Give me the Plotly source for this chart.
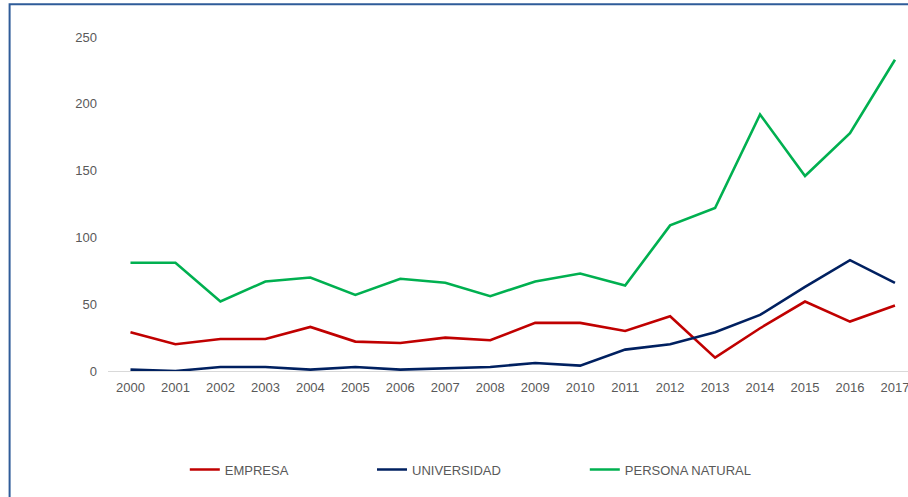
import plotly.graph_objects as go

years = list(range(2000, 2018))
empresa = [29, 20, 24, 24, 33, 22, 21, 25, 23, 36, 36, 30, 41, 10, 32, 52, 37, 49]
universidad = [1, 0, 3, 3, 1, 3, 1, 2, 3, 6, 4, 16, 20, 29, 42, 63, 83, 66]
persona_natural = [81, 81, 52, 67, 70, 57, 69, 66, 56, 67, 73, 64, 109, 122, 192, 146, 178, 233]
y_ticks = [0, 50, 100, 150, 200, 250]

series = [
    ("EMPRESA", empresa, "#C00000", "legend"),
    ("UNIVERSIDAD", universidad, "#002060", "legend2"),
    ("PERSONA NATURAL", persona_natural, "#00B050", "legend3"),
]

fig = go.Figure()
for name, vals, color, leg in series:
    fig.add_trace(go.Scatter(
        x=years, y=vals, name=name, mode="lines",
        line=dict(color=color, width=2.6),
        legend=leg,
    ))

font = dict(family="Liberation Sans, Arial, sans-serif", size=13, color="#595959")

# plot area: left 107.5px, right edge at 908, top 37 (=250), bottom 371 (=0)
fig.update_layout(
    width=908, height=497,
    margin=dict(l=107.5, r=0, t=37, b=126),
    paper_bgcolor="white", plot_bgcolor="white",
    font=font,
    showlegend=True,
    legend=dict(orientation="h", x=0.096, y=-0.295, xanchor="left", yanchor="middle",
                font=font, bgcolor="rgba(0,0,0,0)"),
    legend2=dict(orientation="h", x=0.330, y=-0.295, xanchor="left", yanchor="middle",
                 font=font, bgcolor="rgba(0,0,0,0)"),
    legend3=dict(orientation="h", x=0.596, y=-0.295, xanchor="left", yanchor="middle",
                 font=font, bgcolor="rgba(0,0,0,0)"),
)

fig.update_xaxes(
    range=[1999.5, 2017.29], tickvals=years, ticktext=[str(y) for y in years],
    showgrid=False, zeroline=False, showline=True, linecolor="#D9D9D9", linewidth=1,
    ticks="", tickfont=font, ticklabelstandoff=4, ticklabeloverflow="allow",
)
fig.update_yaxes(
    range=[0, 250], tickvals=y_ticks, showgrid=False, zeroline=False,
    showline=False, ticks="", tickfont=font, ticklabelstandoff=10,
)

# outer frame, clipped by the page on the right and bottom
fig.add_shape(
    type="rect", xref="paper", yref="paper",
    x0=-0.123, x1=1.01, y0=-0.45, y1=1.098,
    line=dict(color="#2F5C99", width=2), layer="below",
)

# drop the default page margin so the figure sits at the window's corner
fig.write_html("out.html", config={"displayModeBar": False},
               post_script="document.body.style.margin='0';")
